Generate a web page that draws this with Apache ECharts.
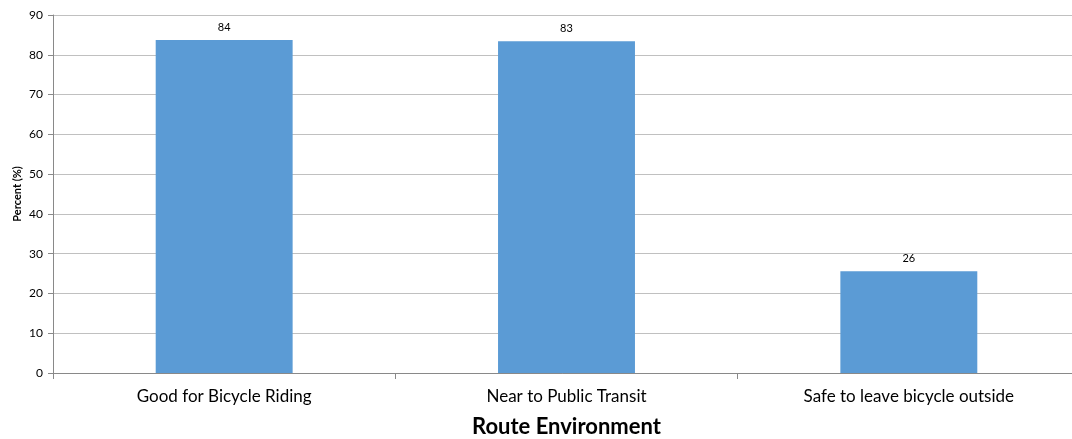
<!DOCTYPE html>
<html>
<head>
<meta charset="utf-8">
<script src="https://cdn.jsdelivr.net/npm/echarts@6/dist/echarts.min.js"></script>
<style>
  html, body { margin: 0; padding: 0; background: #fff; }
  #main { width: 1072px; height: 439px; }
</style>
</head>
<body>
<div id="main"></div>
<script>
const categories = ['Good for Bicycle Riding', 'Near to Public Transit', 'Safe to leave bicycle outside']
const percents = [83.7, 83.4, 25.6]
const labels = ['84', '83', '26']

const font = 'Lato, "Open Sans", sans-serif'
const chart = echarts.init(document.getElementById('main'))

const option = {
    animation: false,
    textStyle: { fontFamily: font },
    grid: {
        left: 53,
        right: -8,
        top: 15,
        bottom: 66,
        containLabel: false,
        outerBoundsMode: 'none'
    },
    xAxis: {
        type: 'category',
        data: categories,
        name: 'Route Environment',
        nameLocation: 'middle',
        nameGap: 43,
        nameMoveOverlap: false,
        nameTextStyle: {
            fontFamily: font,
            fontSize: 22,
            fontWeight: 'bold',
            color: '#000'
        },
        axisLine: { lineStyle: { color: '#898989', width: 1 } },
        axisTick: { show: true, length: 6, lineStyle: { color: '#898989' } },
        axisLabel: {
            fontFamily: font,
            fontSize: 17,
            color: '#000',
            margin: 15
        }
    },
    yAxis: {
        type: 'value',
        min: 0,
        max: 90,
        interval: 10,
        name: 'Percent (%)',
        nameLocation: 'middle',
        nameGap: 30,
        nameMoveOverlap: false,
        nameTextStyle: {
            fontFamily: font,
            fontSize: 11,
            fontWeight: 'bold',
            color: '#000'
        },
        axisLine: { show: true, lineStyle: { color: '#898989', width: 1 } },
        axisTick: { show: true, length: 5, lineStyle: { color: '#898989' } },
        axisLabel: {
            fontFamily: font,
            fontSize: 12,
            color: '#000',
            margin: 10
        },
        splitLine: { show: true, lineStyle: { color: '#c0c0c0', width: 1 } }
    },
    series: [{
        type: 'bar',
        data: percents,
        barWidth: '40%',
        itemStyle: { color: '#5b9bd5' },
        label: {
            show: true,
            position: 'top',
            distance: 7,
            fontFamily: font,
            fontSize: 11,
            color: '#000',
            formatter: p => labels[p.dataIndex]
        }
    }]
}
chart.setOption(option)
</script>
</body>
</html>
